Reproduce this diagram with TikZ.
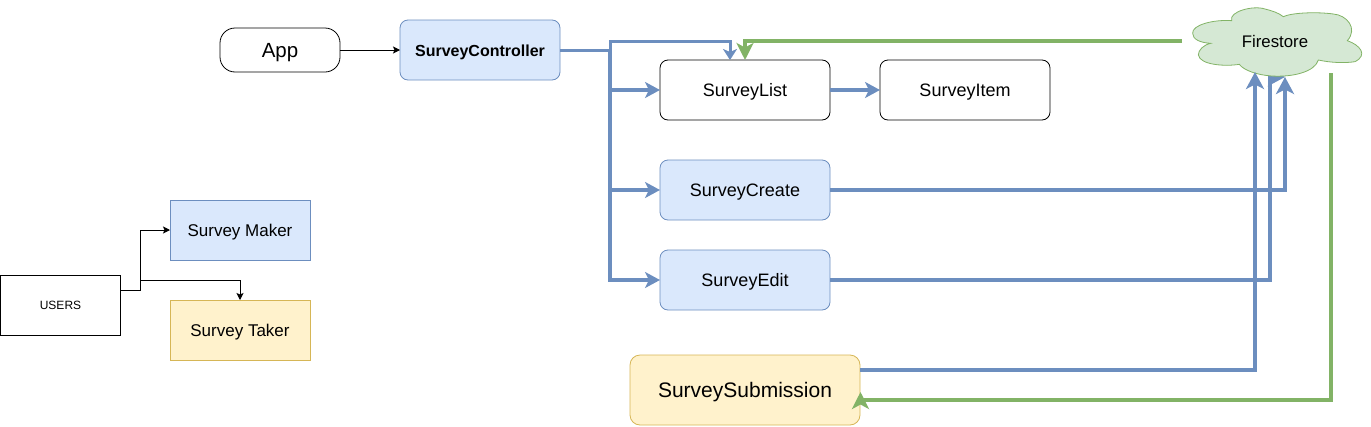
\documentclass[tikz,border=0pt]{standalone}
\usepackage{fontspec}
\setmainfont{Liberation Sans}
\usetikzlibrary{arrows.meta}
\definecolor{bluefill}{HTML}{DAE8FC}
\definecolor{bluedraw}{HTML}{6C8EBF}
\definecolor{yelfill}{HTML}{FFF2CC}
\definecolor{yeldraw}{HTML}{D6B656}
\definecolor{grnfill}{HTML}{D5E8D4}
\definecolor{grndraw}{HTML}{82B366}
\tikzset{
  tx/.style={font=\fontsize{#1}{#1}\selectfont,text height=0.9*#1 pt,text depth=0.15*#1 pt},
  box/.style={draw,outer sep=0pt,inner sep=0pt,line width=.8pt,align=center,tx=18},
  rbox/.style={box,rounded corners=8pt,minimum width=170pt,minimum height=60pt},
  bluebox/.style={draw=bluedraw,fill=bluefill},
  yelbox/.style={draw=yeldraw,fill=yelfill},
  thin arrow/.style={draw=black,line width=.9pt,-{Stealth[length=7pt,width=7pt,inset=1.5pt]}},
  bluearrow/.style={draw=bluedraw,line width=3.2pt,-{Stealth[length=15pt,width=16pt,inset=4pt]}},
  smallblue/.style={draw=bluedraw,line width=3pt,-{Stealth[length=11pt,width=14pt,inset=3pt]}},
  bigblue/.style={draw=bluedraw,line width=3.6pt,-{Stealth[length=17pt,width=18pt,inset=4.5pt]}},
  greenarrow/.style={draw=grndraw,line width=3.6pt,-{Stealth[length=17pt,width=17pt,inset=4.5pt]}},
}
\begin{document}
\begin{tikzpicture}[x=1pt,y=-1pt]
\useasboundingbox (0,0) rectangle (1371,426);
% nodes
\node[box,tx=20.5,rounded corners=15pt,minimum width=120pt,minimum height=44pt] (app) at (280,50) {App};
\node[rbox,bluebox,minimum width=160pt,tx=16] (ctrl) at (480,50) {\bfseries SurveyController};
\node[rbox] (list) at (745,90) {SurveyList};
\node[rbox] (item) at (965,90) {SurveyItem};
\node[rbox,bluebox] (create) at (745,190) {SurveyCreate};
\node[rbox,bluebox] (edit) at (745,280) {SurveyEdit};
\node[rbox,yelbox,minimum width=230pt,minimum height=70pt,rounded corners=10pt,tx=21] (subm) at (745,390) {SurveySubmission};
\node[box,minimum width=120pt,minimum height=60pt,tx=12] (users) at (60.5,305) {USERS};
\node[box,bluebox,minimum width=140pt,minimum height=60pt,tx=17] (maker) at (240,230) {Survey Maker};
\node[box,yelbox,minimum width=140pt,minimum height=60pt,tx=17] (taker) at (240,330) {Survey Taker};
% free ends and bends
\coordinate (jc) at (610,50);
\coordinate (jtop) at (610,41);
\coordinate (listin) at (730,60);
\coordinate (fsout) at (1182,41);
\coordinate (fsbot) at (1331,73);
\coordinate (subcorner) at (860.5,400);
\coordinate (subtip) at (860.5,392);
\coordinate (ju) at (140,290);
\coordinate (jt) at (140,280);
\coordinate (inA) at (1255,72);
\coordinate (inB) at (1270,77);
\coordinate (inBtip) at (1285,77);
\coordinate (inC) at (1285,77);
% edit connector runs behind the cloud
\draw[bluearrow,-{Stealth[length=17pt,width=18pt,inset=4.5pt]}] (edit.east) -| (inB) -- (inBtip);
% cloud
\begin{scope}[shift={(1150,0)},x=.3333pt,y=-.3333pt]
\draw[draw=grndraw,fill=grnfill,line width=.8pt]
  (128,100) .. controls (125,75) and (190,58) .. (245,62)
  .. controls (235,35) and (310,15) .. (345,27)
  .. controls (365,32) and (385,38) .. (400,50)
  .. controls (425,38) and (500,35) .. (550,42)
  .. controls (590,45) and (625,85) .. (592,122)
  .. controls (630,135) and (655,165) .. (615,185)
  .. controls (585,190) and (540,188) .. (505,180)
  .. controls (495,215) and (430,232) .. (365,228)
  .. controls (320,225) and (280,210) .. (268,193)
  .. controls (225,200) and (150,195) .. (145,165)
  .. controls (145,150) and (160,135) .. (182,130)
  .. controls (150,128) and (128,118) .. (128,100) -- cycle;
\end{scope}
\node[tx=16.8,inner sep=0pt] (fs) at (1275,41) {Firestore};
% connectors
\draw[thin arrow] (app.east) -- (ctrl.west);
\draw[smallblue] (ctrl.east) -- (jc) -- (jtop) -| (listin);
\draw[bluearrow] (jc) |- (list.west);
\draw[bluearrow] (jc) |- (create.west);
\draw[bluearrow] (jc) |- (edit.west);
\draw[bluearrow] (list.east) -- (item.west);
\draw[bigblue] (create.east) -| (inC);
\draw[bigblue] (subm.east |- 0,370) -| (inA);
\draw[greenarrow] (fsout) -| (list.north);
\draw[greenarrow] (fsbot) |- (subcorner) -- (subtip);
\draw[thin arrow] (users.east |- ju) -- (ju) |- (maker.west);
\draw[thin arrow] (jt) -| (taker.north);
\end{tikzpicture}
\end{document}
